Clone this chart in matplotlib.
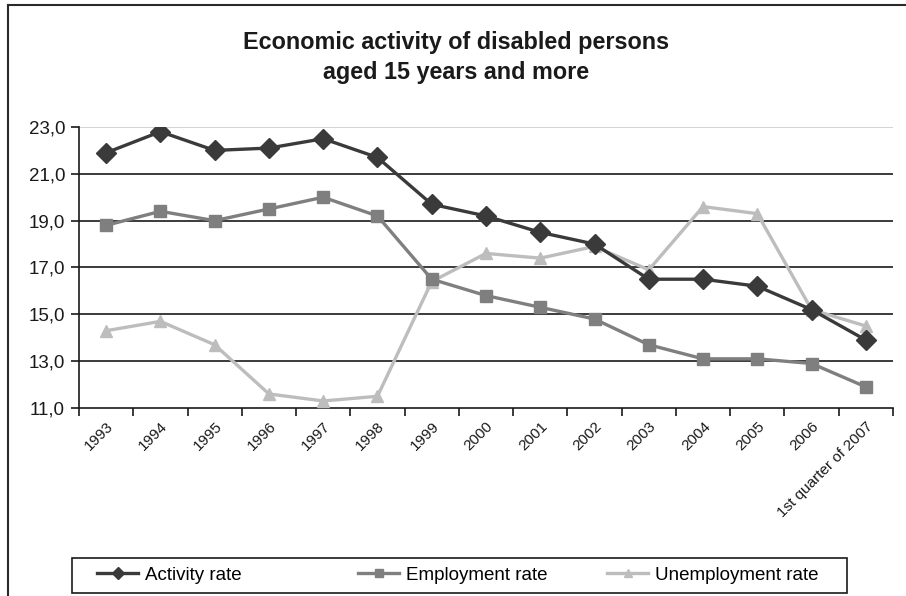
import matplotlib
matplotlib.use("Agg")
import matplotlib.pyplot as plt
from matplotlib.patches import Rectangle
from matplotlib.lines import Line2D

plt.rcParams['font.family'] = ['Liberation Sans', 'DejaVu Sans']

categories = ["1993", "1994", "1995", "1996", "1997", "1998", "1999", "2000",
              "2001", "2002", "2003", "2004", "2005", "2006", "1st quarter of 2007"]
activity_rate = [21.9, 22.8, 22.0, 22.1, 22.5, 21.7, 19.7, 19.2, 18.5, 18.0,
                 16.5, 16.5, 16.2, 15.2, 13.9]
employment_rate = [18.8, 19.4, 19.0, 19.5, 20.0, 19.2, 16.5, 15.8, 15.3, 14.8,
                   13.7, 13.1, 13.1, 12.9, 11.9]
unemployment_rate = [14.3, 14.7, 13.7, 11.6, 11.3, 11.5, 16.4, 17.6, 17.4, 17.9,
                     16.9, 19.6, 19.3, 15.2, 14.5]
y_ticks = [11.0, 13.0, 15.0, 17.0, 19.0, 21.0, 23.0]

W, H = 906, 596
fig = plt.figure(figsize=(W / 100, H / 100), dpi=100)

def fx(px):
    return px / W

def fy(py):
    return 1 - py / H

# outer frame: left and top edges
fig.add_artist(Line2D([fx(8), fx(8)], [fy(5), -0.01], transform=fig.transFigure,
                      color="#2a2a2a", lw=1.5))
fig.add_artist(Line2D([fx(8), 1.01], [fy(5), fy(5)], transform=fig.transFigure,
                      color="#2a2a2a", lw=1.5))

fig.text(fx(456), fy(43), "Economic activity of disabled persons",
         ha="center", va="center", fontsize=16.8, fontweight="bold", color="#1a1a1a")
fig.text(fx(456), fy(72), "aged 15 years and more",
         ha="center", va="center", fontsize=16.8, fontweight="bold", color="#1a1a1a")

ax = fig.add_axes([fx(79), fy(408), fx(893) - fx(79), fy(127) - fy(408)])

x = list(range(len(categories)))
l1, = ax.plot(x, activity_rate, color="#3a3a3a", lw=2.4, marker="D", ms=10,
              label="Activity rate", zorder=5)
l2, = ax.plot(x, employment_rate, color="#7f7f7f", lw=2.4, marker="s", ms=8,
              label="Employment rate", zorder=4)
l3, = ax.plot(x, unemployment_rate, color="#bdbdbd", lw=2.4, marker="^", ms=9,
              label="Unemployment rate", zorder=3)

ax.set_xlim(-0.5, len(categories) - 0.5)
ax.set_ylim(11, 23)
ax.set_yticks(y_ticks)
ax.set_yticklabels([f"{v:.1f}".replace(".", ",") for v in y_ticks], fontsize=13.5,
                   color="#1a1a1a")
for v in y_ticks[1:-1]:
    ax.axhline(v, color="#1a1a1a", lw=1.2, zorder=1)
ax.axhline(23, color="#cccccc", lw=1.2, zorder=1)

ax.set_xticks([i - 0.5 for i in range(len(categories) + 1)])
ax.set_xticklabels([])
ax.set_xticks(x, minor=True)
ax.set_xticklabels(categories, minor=True, rotation=45, ha="right", va="top",
                   rotation_mode="anchor", fontsize=11, color="#1a1a1a")
ax.tick_params(axis="x", which="minor", length=0, pad=8)
ax.tick_params(axis="x", which="major", length=6, width=1.2, color="#1a1a1a")
ax.tick_params(axis="y", length=6, width=1.2, color="#1a1a1a", pad=4)

for s in ["top", "right"]:
    ax.spines[s].set_visible(False)
for s in ["left", "bottom"]:
    ax.spines[s].set_color("#1a1a1a")
    ax.spines[s].set_linewidth(1.2)

# legend: framed box with three evenly placed entries
fig.patches.append(Rectangle((fx(72), fy(593)), fx(847) - fx(72), fy(558) - fy(593),
                             transform=fig.transFigure, fill=False,
                             edgecolor="#1a1a1a", linewidth=1.2))
for line, x0 in zip([l1, l2, l3], [97, 358, 607]):
    fig.legend(handles=[line], loc="center left", bbox_to_anchor=(fx(x0), fy(575)),
               frameon=False, fontsize=13.5, borderpad=0, borderaxespad=0,
               handlelength=2.2, handletextpad=0.35, markerscale=0.65)

fig.savefig("out.png", dpi=100)
